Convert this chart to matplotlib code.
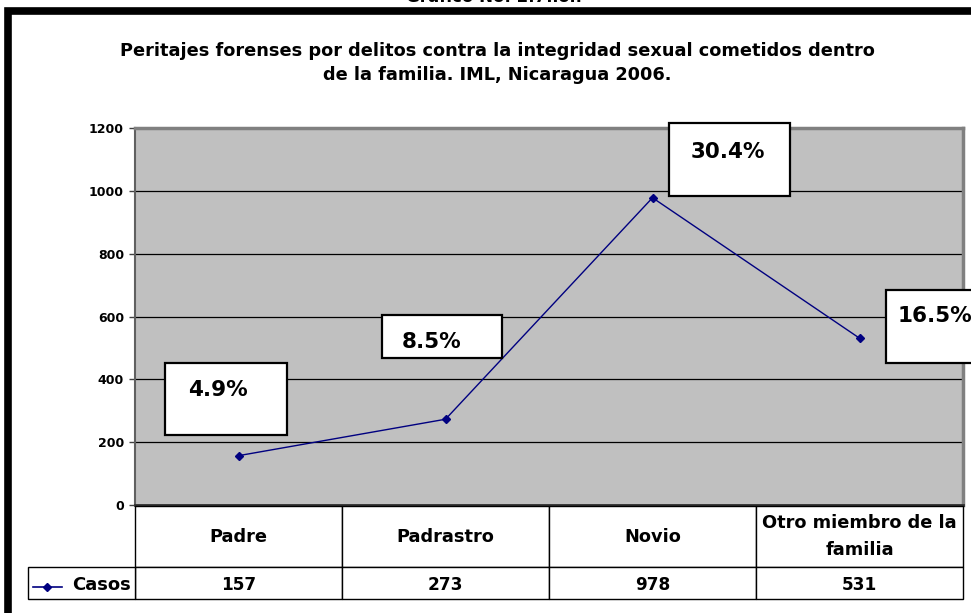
import matplotlib
matplotlib.use("Agg")
import matplotlib.pyplot as plt
import matplotlib.transforms as mtransforms
from matplotlib.patches import Rectangle
from matplotlib.lines import Line2D

##========== Datos ==========##
categorias = ["Padre", "Padrastro", "Novio", "Otro miembro de la\nfamilia"]
casos = [157, 273, 978, 531]
porcentajes = ["4.9%", "8.5%", "30.4%", "16.5%"]
y_ticks = [0, 200, 400, 600, 800, 1000, 1200]

titulo = ("Peritajes forenses por delitos contra la integridad sexual cometidos dentro\n"
          "de la familia. IML, Nicaragua 2006.")

W, H = 971, 613
plt.rcParams['font.family'] = ['DejaVu Sans']


def fx(x):  # pixel -> fraccion de figura
    return x / W


def fy(y):
    return 1 - y / H


fig = plt.figure(figsize=(W / 100, H / 100), dpi=100)
fig.patch.set_facecolor("white")

# marco negro grueso (se sale del lienzo a la derecha y abajo)
fig.patches.append(Rectangle((fx(8), fy(700)), 2.0, fy(11) - fy(700),
                             transform=fig.transFigure, fill=False,
                             edgecolor="black", linewidth=5.5, zorder=0))

# titulo superior cortado
fig.text(fx(494), fy(2), "Gráfico No. 2.7.ion", ha="center", va="baseline",
         fontsize=12, fontweight="bold")

fig.text(fx(497), fy(63), titulo, ha="center", va="center", fontsize=12.8,
         fontweight="bold", linespacing=1.5)

##========== Grafico ==========##
ax_h = 505 - 128
ax = fig.add_axes([fx(135), fy(505), (963 - 135) / W, ax_h / H])
ax.set_facecolor("#C0C0C0")
x = list(range(len(casos)))
ax.plot(x, casos, color="#000080", linewidth=1, marker="D", markersize=4,
        zorder=3)
ax.set_xlim(-0.5, len(casos) - 0.5)
ax.set_ylim(0, 1200)
ax.set_yticks(y_ticks)
ax.set_yticklabels([str(t) for t in y_ticks], fontsize=9, fontweight="bold")
ax.set_xticks([])
ax.tick_params(axis="y", length=4, width=1, color="#404040", pad=4)
ax.yaxis.grid(True, color="black", linewidth=0.9)
ax.set_axisbelow(True)
for s in ["top", "right"]:
    ax.spines[s].set_color("#808080")
    ax.spines[s].set_linewidth(2.5)
ax.spines["left"].set_color("#606060")
ax.spines["left"].set_linewidth(1.5)
ax.spines["bottom"].set_color("#303030")
ax.spines["bottom"].set_linewidth(2)

##========== Tabla de datos ==========##
trans = mtransforms.blended_transform_factory(ax.transData, ax.transAxes)
y_top = -1 / ax_h
y_mid = -62 / ax_h
y_bot = -94 / ax_h
x_izq = -0.5 - 107 / 207  # ancho de la celda "Casos"


def celda(x0, x1, y0, y1):
    ax.add_patch(Rectangle((x0, y0), x1 - x0, y1 - y0, transform=trans,
                           facecolor="white", edgecolor="black",
                           linewidth=1, clip_on=False, zorder=4))


for i, (cat, val) in enumerate(zip(categorias, casos)):
    celda(i - 0.5, i + 0.5, y_mid, y_top)
    celda(i - 0.5, i + 0.5, y_bot, y_mid)
    ax.text(i, (y_top + y_mid) / 2, cat, transform=trans, ha="center",
            va="center", fontsize=12.8, fontweight="bold", linespacing=1.6,
            clip_on=False, zorder=5)
    ax.text(i, (y_mid + y_bot) / 2 - 2 / ax_h, str(val), transform=trans,
            ha="center", va="center", fontsize=12.2, fontweight="bold",
            clip_on=False, zorder=5)

celda(x_izq, -0.5, y_bot, y_mid)
ax.text(-0.52, (y_mid + y_bot) / 2 - 2 / ax_h, "Casos", transform=trans,
        ha="right", va="center", fontsize=13, fontweight="bold",
        clip_on=False, zorder=5)

# marcador de la leyenda en la celda "Casos"
fig.lines.append(Line2D([fx(33), fx(47), fx(62)], [fy(587)] * 3,
                        transform=fig.transFigure, color="#000080",
                        linewidth=1.2, marker="D", markersize=4, markevery=[1],
                        zorder=6))

##========== Etiquetas de porcentaje ==========##
cajas = [(165, 363, 122, 72), (382, 315, 120, 43), (669, 123, 121, 73),
         (886, 290, 120, 73)]
textos_xy = [(218, 390), (432, 342), (728, 152), (935, 316)]
for (bx, by, bw, bh), (tx, ty), p in zip(cajas, textos_xy, porcentajes):
    fig.patches.append(Rectangle((fx(bx), fy(by + bh)), bw / W, bh / H,
                                 transform=fig.transFigure, facecolor="white",
                                 edgecolor="black", linewidth=1.6, zorder=5))
    fig.text(fx(tx), fy(ty), p, ha="center", va="center", fontsize=15.5,
             fontweight="bold", zorder=6)

fig.savefig("out.png", dpi=100)
